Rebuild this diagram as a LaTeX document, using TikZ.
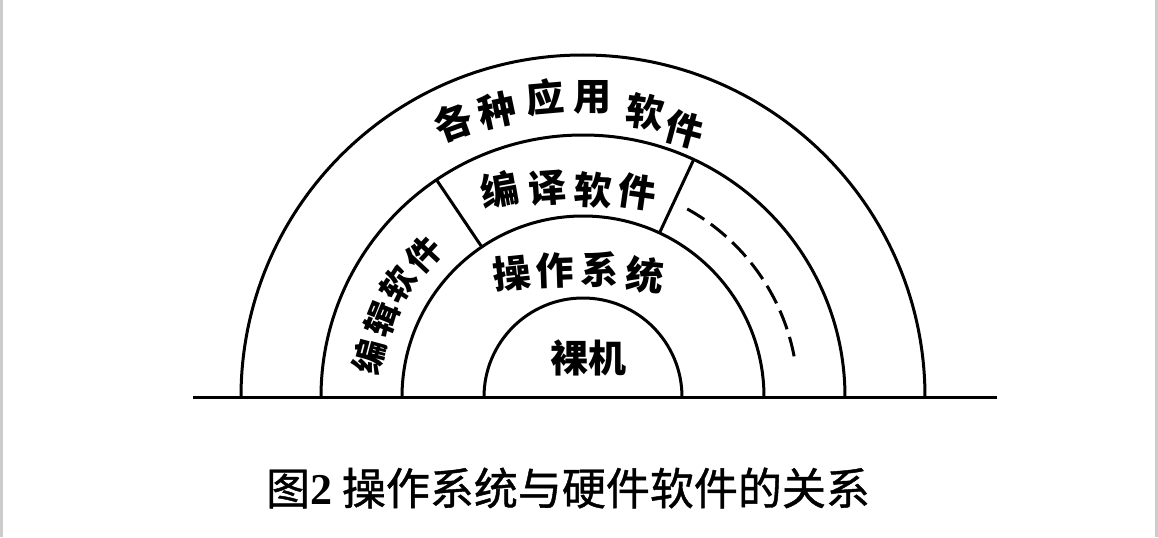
\documentclass[tikz,border=0pt]{standalone}
\usepackage{fontspec}
\newfontfamily\cjk{Noto Sans CJK SC}
\newfontfamily\cjkcap[FakeBold=1]{Noto Sans CJK SC}
\newfontfamily\latin{Liberation Serif}
\tikzset{
  ringtext/.style={inner sep=0pt, font=\cjk\bfseries\fontsize{19pt}{19pt}\selectfont},
  sidetext/.style={inner sep=0pt, font=\cjk\bfseries\fontsize{17pt}{17pt}\selectfont},
  captext/.style={inner sep=0pt, font=\cjkcap\fontsize{22pt}{22pt}\selectfont},
  ringline/.style={line width=1.5pt}
}
\begin{document}
\begin{tikzpicture}[x=0.5pt,y=0.5pt]
  \useasboundingbox (0,0) rectangle (1158,537);
  \fill[gray!40] (0,0) rectangle (3,537);
  \fill[gray!40] (1155,0) rectangle (1158,537);
  \coordinate (O) at (583,140);
  \draw[ringline] (193,140) -- (997,140); % 底线
  \foreach \r in {342,262,181,99} {
      \draw[ringline] ([shift={(180:\r)}]O) arc (180:0:\r); % 半圆
  }
  \foreach \a in {124,65} {
      \draw[ringline] ([shift={(\a:181)}]O) -- ([shift={(\a:262)}]O); % 分隔线
  }
  \draw[line width=1.5pt, dash pattern=on 10pt off 4pt] ([shift={(61:215)}]O) arc (61:10:215); % 虚线
  % 外层
  \foreach \ch/\x/\y/\rot [count=\i] in {各/453/415/20, 种/497/427/12, 应/545/440/5, 用/592/440/0, 软/645/425/-8, 件/685/407/-15} {
      \node[ringtext, rotate=\rot] (app\i) at (\x,\y) {\ch};
  }
  % 第二层
  \foreach \ch/\x/\y/\rot [count=\i] in {编/500/347/10, 译/547/349/4, 软/593/347/-3, 件/637/345/-8} {
      \node[ringtext, rotate=\rot] (comp\i) at (\x,\y) {\ch};
  }
  \foreach \ch/\x/\y/\rot [count=\i] in {编/369/180/75, 辑/382/218/68, 软/398/253/57, 件/424/283/47} {
      \node[sidetext, rotate=\rot] (edit\i) at (\x,\y) {\ch};
  }
  % 第三层
  \foreach \ch/\x/\y/\rot [count=\i] in {操/512/264/6, 作/555/267/2, 系/600/267/-2, 统/645/262/-6} {
      \node[ringtext, rotate=\rot] (os\i) at (\x,\y) {\ch};
  }
  \node[ringtext] (bare) at (588,179) {裸机};
  \node[captext] (cap) at (568,49) {图{\latin\bfseries 2} 操作系统与硬件软件的关系};
\end{tikzpicture}
\end{document}
